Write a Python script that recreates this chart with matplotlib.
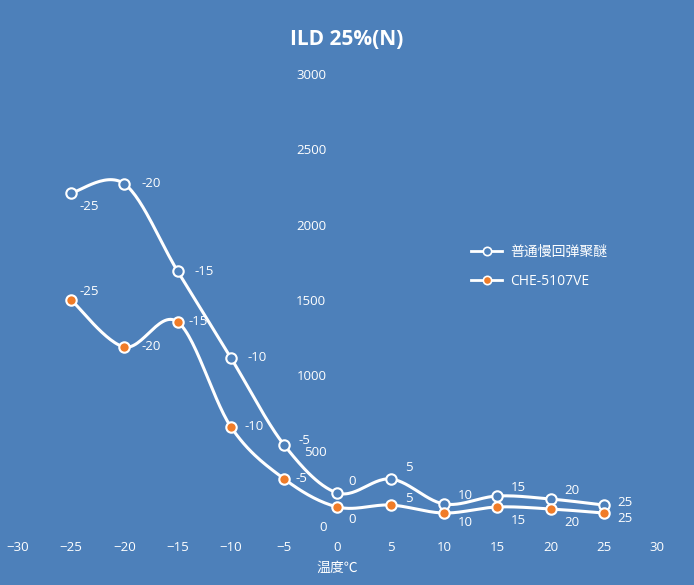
import matplotlib.pyplot as plt
import numpy as np

plt.rcParams['font.family'] = ['Open Sans', 'Noto Sans CJK SC', 'DejaVu Sans']

# data
temps = [-25, -20, -15, -10, -5, 0, 5, 10, 15, 20, 25]
normal_foam = [2210, 2270, 1690, 1115, 537, 219, 312, 146, 199, 179, 139]
che_5107ve = [1500, 1188, 1354, 657, 312, 126, 139, 86, 126, 113, 86]
series_names = ['普通慢回弹聚醚', 'CHE-5107VE']
x_ticks = [-30, -25, -20, -15, -10, -5, 0, 5, 10, 15, 20, 25, 30]
y_ticks = [0, 500, 1000, 1500, 2000, 2500, 3000]

BG = '#4d80ba'
ORANGE = '#f07c28'


def smooth(x, y, n=30):
    # catmull-rom style curve through the points (only for drawing the line)
    x = np.asarray(x, float)
    y = np.asarray(y, float)
    px = np.concatenate([[x[0]], x, [x[-1]]])
    py = np.concatenate([[y[0]], y, [y[-1]]])
    xs, ys = [], []
    t = np.linspace(0, 1, n)
    for i in range(1, len(px) - 2):
        p0, p1, p2, p3 = [np.array([px[j], py[j]]) for j in range(i - 1, i + 3)]
        c1 = p1 + (p2 - p0) / 6
        c2 = p2 - (p3 - p1) / 6
        b = ((1 - t) ** 3)[:, None] * p1 + (3 * (1 - t) ** 2 * t)[:, None] * c1 \
            + (3 * (1 - t) * t ** 2)[:, None] * c2 + (t ** 3)[:, None] * p2
        xs.extend(b[:, 0])
        ys.extend(b[:, 1])
    return xs, ys


fig = plt.figure(figsize=(6.94, 5.85), dpi=100, facecolor=BG)
ax = fig.add_axes([0.0259, 0.1009, 0.9208, 0.7726])
ax.set_facecolor(BG)

# white series
sx, sy = smooth(temps, normal_foam)
ax.plot(sx, sy, color='white', lw=2.2, zorder=2)
ax.plot(temps, normal_foam, ls='none', marker='o', ms=7.5, mfc=BG, mec='white',
        mew=1.5, zorder=3)
# orange series
sx, sy = smooth(temps, che_5107ve)
ax.plot(sx, sy, color='white', lw=2.2, zorder=2)
ax.plot(temps, che_5107ve, ls='none', marker='o', ms=7.5, mfc=ORANGE, mec='white',
        mew=1.5, zorder=3)

# legend handles
ax.plot([], [], color='white', lw=2, marker='o', ms=6, mfc=BG, mec='white',
        mew=1.2, label=series_names[0])
ax.plot([], [], color='white', lw=2, marker='o', ms=6, mfc=ORANGE, mec='white',
        mew=1.2, label=series_names[1])
handles, labels = ax.get_legend_handles_labels()
ax.legend(handles, labels, loc='upper left', bbox_to_anchor=(0.69, 0.65),
          frameon=False, fontsize=10, labelcolor='white', handlelength=2.2,
          handletextpad=0.6, labelspacing=1.0)

# point labels
off_white = [(6, -10), (12, 0), (12, 0), (12, 0), (10, 3), (8, 8), (10, 8),
             (10, 6), (10, 6), (10, 6), (10, 2)]
off_orange = [(6, 6), (12, 0), (8, 0), (10, 0), (8, 0), (8, -9), (10, 5),
              (10, -7), (10, -10), (10, -10), (10, -4)]
for x, y, o in zip(temps, normal_foam, off_white):
    ax.annotate(str(x), (x, y), xytext=o, textcoords='offset points',
                color='white', fontsize=9.5, va='center', ha='left')
for x, y, o in zip(temps, che_5107ve, off_orange):
    ax.annotate(str(x), (x, y), xytext=o, textcoords='offset points',
                color='white', fontsize=9.5, va='center', ha='left')

ax.set_xlim(-30, 30)
ax.set_ylim(0, 3000)
ax.set_xticks(x_ticks)
ax.set_yticks(y_ticks)
ax.tick_params(axis='both', length=0, colors='white', labelsize=9.5)
ax.tick_params(axis='x', pad=11)
ax.tick_params(axis='y', pad=8)
ax.spines['left'].set_position(('data', 0))
for s in ax.spines.values():
    s.set_visible(False)

ax.set_xlabel('温度℃', color='white', fontsize=10, labelpad=5)
fig.text(0.5, 0.932, 'ILD 25%(N)', color='white', fontsize=15, fontweight='bold',
         ha='center', va='center')

fig.savefig('out.png', dpi=100, facecolor=BG)
